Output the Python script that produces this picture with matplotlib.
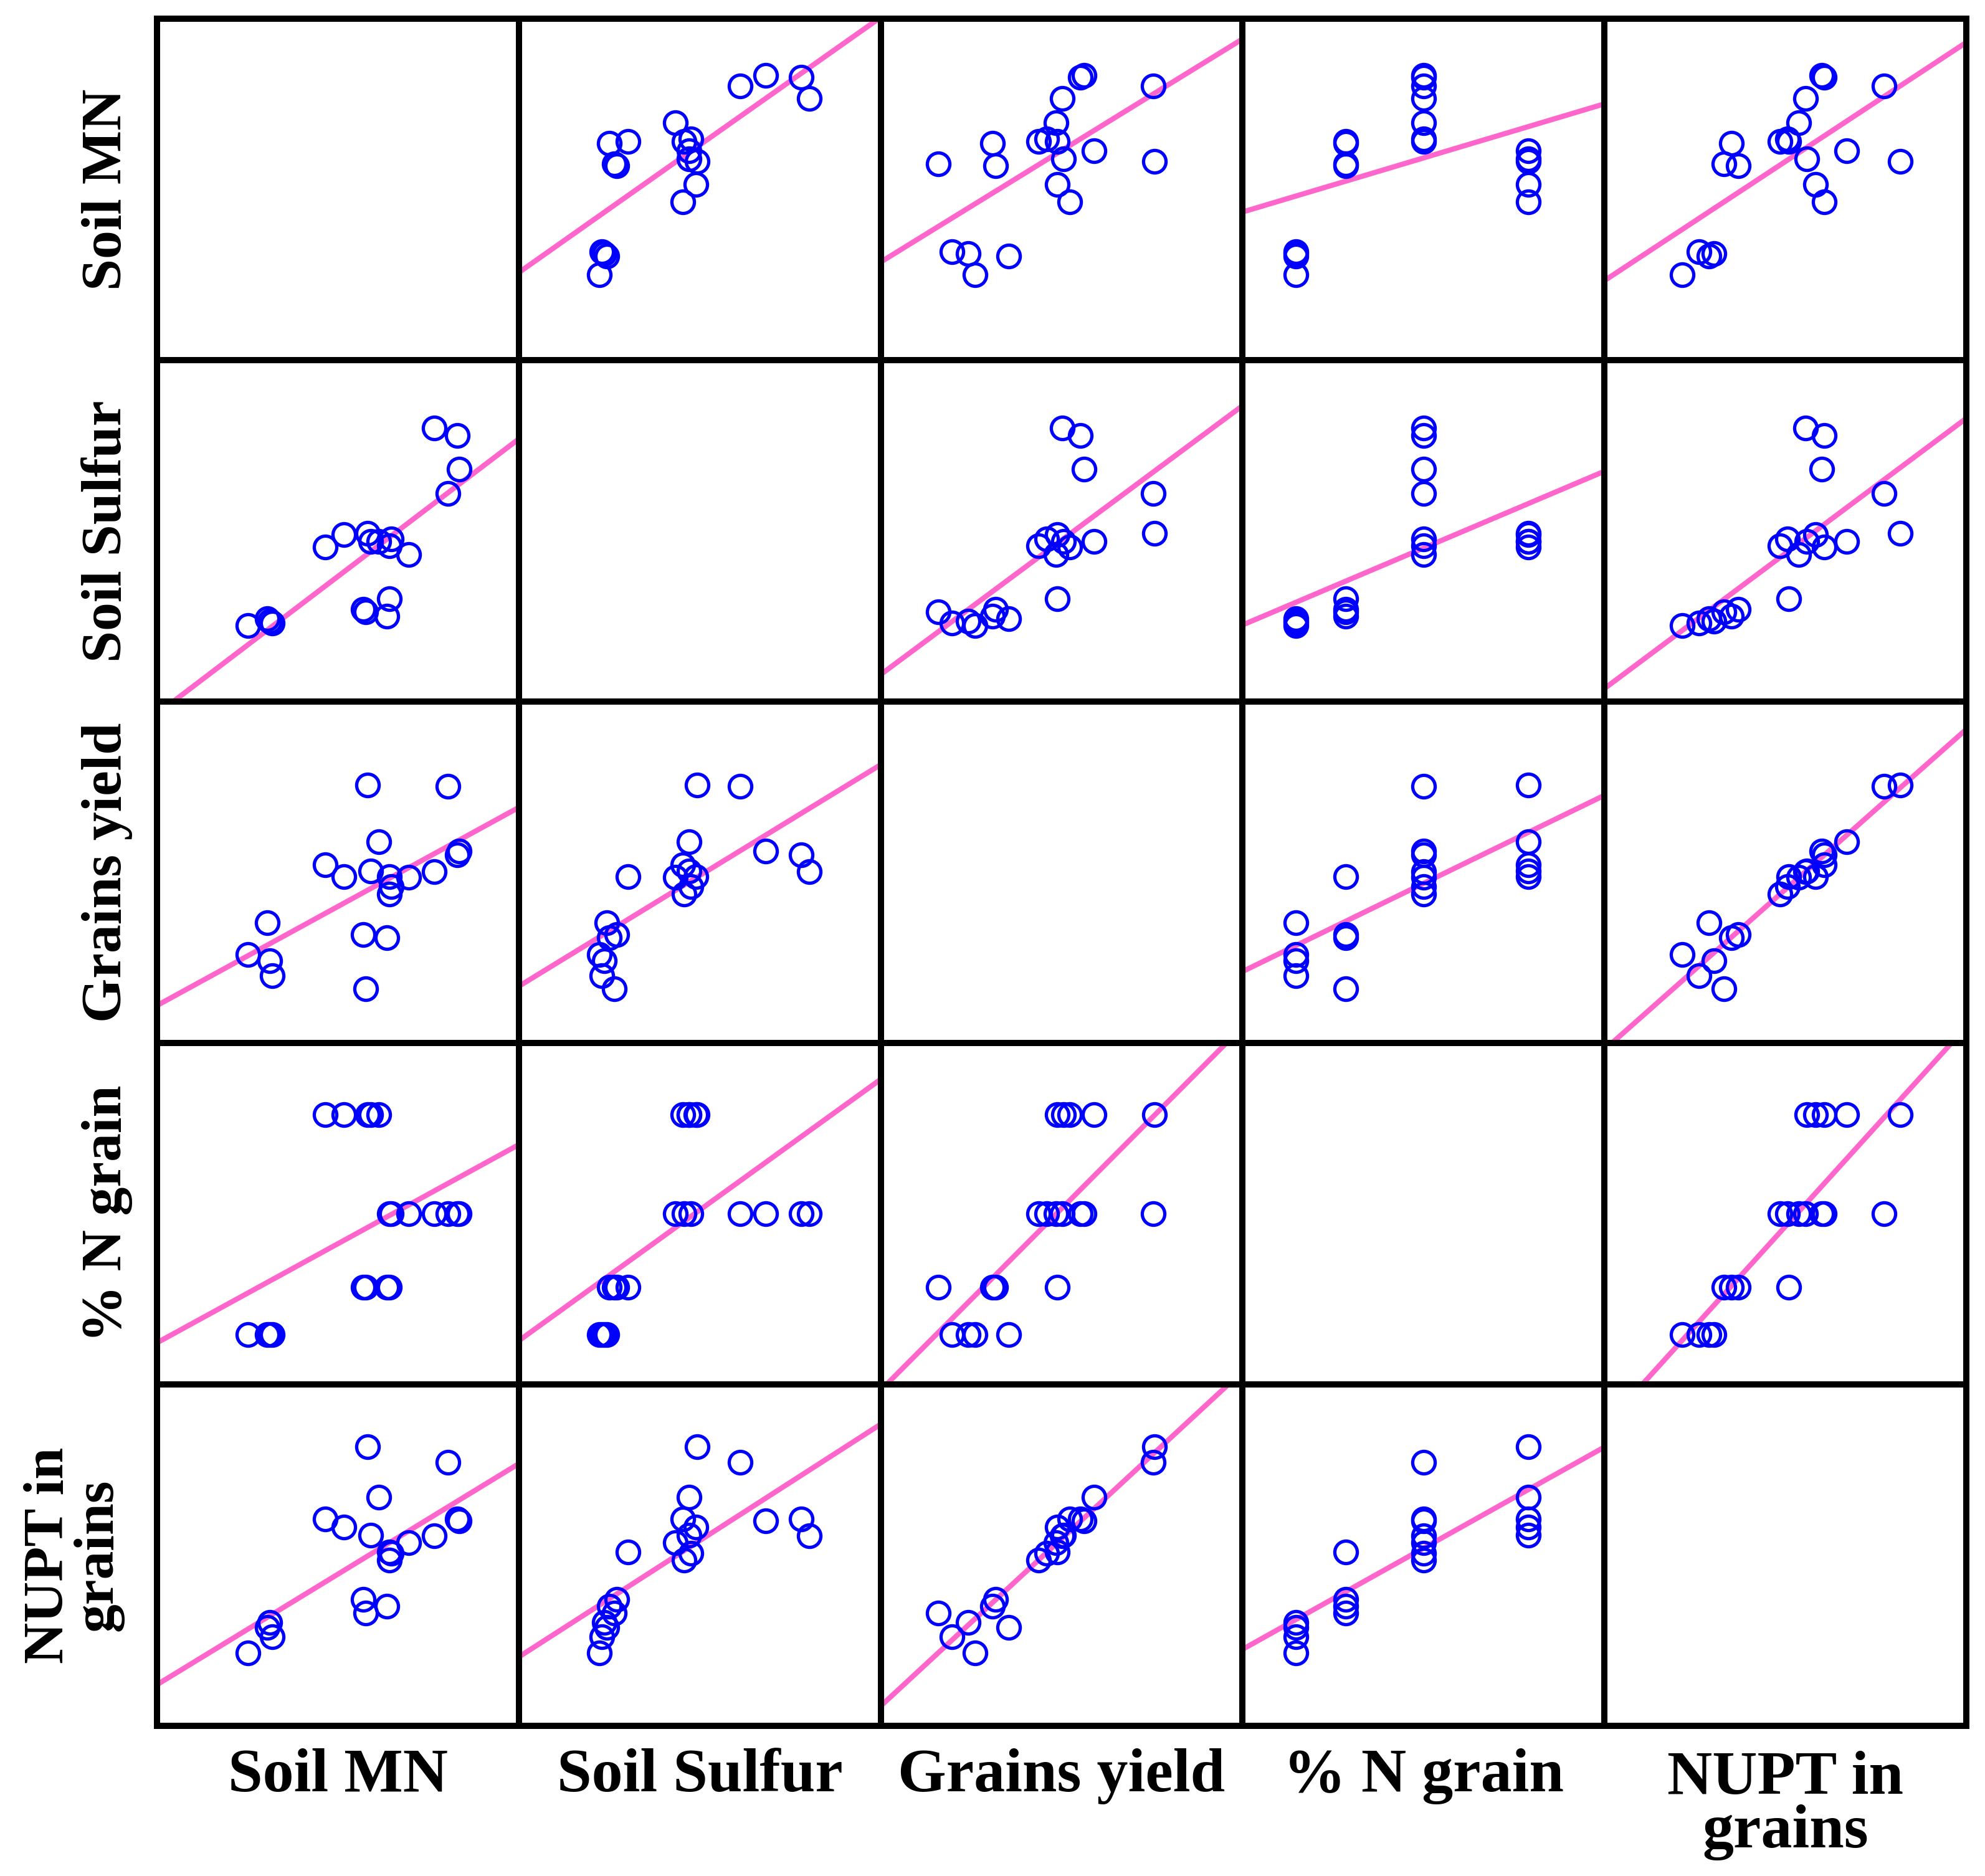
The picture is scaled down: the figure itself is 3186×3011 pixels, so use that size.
import matplotlib
matplotlib.use("Agg")
import matplotlib.pyplot as plt
import numpy as np

# values (relative units, axes carry no ticks)
labels = ["Soil MN", "Soil Sulfur", "Grains yield", "% N grain", "NUPT in\ngrains"]

soil_mn = [25.1, 30.5, 31.2, 31.9, 57.6, 63.5, 57.0, 64.2, 83.0, 83.5,
           80.4, 76.7, 69.6, 64.2, 64.8, 46.5, 51.6, 58.2, 59.0, 61.3]
soil_sulfur = [22.3, 24.3, 23.6, 23.0, 26.3, 25.0, 27.0, 30.1, 78.0, 68.2,
               61.1, 80.2, 43.2, 45.6, 47.6, 45.3, 49.0, 49.3, 47.0, 47.0]
grain_yield = [26.0, 35.3, 24.1, 19.7, 15.9, 30.8, 31.8, 48.8, 55.2, 56.2,
               75.3, 50.2, 48.5, 43.7, 45.8, 52.2, 48.8, 75.6, 50.5, 59.0]
n_grain = [14.7, 14.7, 14.7, 14.7, 28.5, 28.5, 28.5, 28.5, 50.0, 50.0,
           50.0, 50.0, 50.0, 50.0, 50.0, 79.0, 79.0, 79.0, 79.0, 79.0]
nupt_grains = [21.4, 28.9, 30.3, 26.2, 33.0, 35.0, 37.0, 51.0, 60.7, 60.0,
               77.3, 55.6, 53.6, 48.5, 50.5, 60.7, 58.3, 81.7, 55.9, 67.0]

variables = [soil_mn, soil_sulfur, grain_yield, n_grain, nupt_grains]

plt.rcParams["font.family"] = ["Liberation Serif", "DejaVu Serif"]

fig, axes = plt.subplots(
    5, 5, figsize=(15.93, 15.055), dpi=200,
    gridspec_kw=dict(left=0.0791, right=0.9906, bottom=0.0800, top=0.9899,
                     wspace=0, hspace=0),
)

lims = (0, 100)
for i in range(5):
    for j in range(5):
        ax = axes[i, j]
        ax.set_xlim(lims)
        ax.set_ylim(lims)
        ax.set_xticks([])
        ax.set_yticks([])
        for sp in ax.spines.values():
            sp.set_linewidth(3.6)
            sp.set_color("black")
        if i == j:
            continue
        x = np.array(variables[j])
        y = np.array(variables[i])
        ax.plot(x, y, "o", ms=13, mfc="none", mec="#0000ff", mew=1.9, zorder=3)
        b, a = np.polyfit(x, y, 1)
        xx = np.array(lims, dtype=float)
        ax.plot(xx, a + b * xx, color="#ff66cc", lw=3.0, zorder=2)

# column labels under the grid
for j, lab in enumerate(labels):
    pos = axes[-1, j].get_position()
    xc = (pos.x0 + pos.x1) / 2
    y = 0.0376 if "\n" in lab else 0.053
    fig.text(xc, y, lab, ha="center", va="center", linespacing=0.95,
             fontsize=36, fontweight="bold")

# row labels on the left
for i, lab in enumerate(labels):
    pos = axes[i, 0].get_position()
    yc = (pos.y0 + pos.y1) / 2
    x = 0.0372 if "\n" in lab else 0.054
    fig.text(x, yc, lab, ha="center", va="center", rotation=90,
             linespacing=0.95, fontsize=33, fontweight="bold")

fig.savefig("out.png", dpi=200)
